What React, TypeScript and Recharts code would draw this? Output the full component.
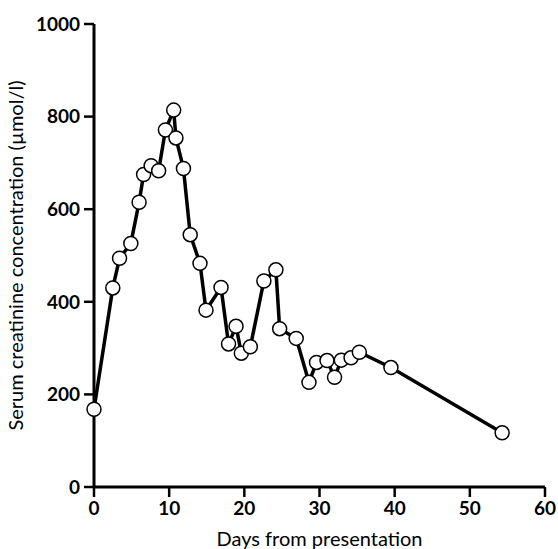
import React from 'react';
import { LineChart, Line, XAxis, YAxis } from 'recharts';

// days from presentation and serum creatinine (µmol/l)
const days = [0, 2.5, 3.4, 4.9, 6.0, 6.6, 7.6, 8.6, 9.5, 10.6, 10.9, 11.9, 12.8, 14.1, 14.9, 16.9, 17.9, 18.9, 19.6, 20.8, 22.6, 24.2, 24.7, 26.9, 28.6, 29.6, 31.0, 32.0, 32.9, 34.2, 35.3, 39.5, 54.3];
const creatinine = [168, 430, 494, 526, 615, 675, 694, 683, 771, 814, 754, 688, 545, 483, 382, 431, 309, 347, 289, 303, 445, 469, 342, 321, 226, 269, 273, 237, 274, 279, 291, 258, 117];

const xTicks = [0, 10, 20, 30, 40, 50, 60];
const yTicks = [0, 200, 400, 600, 800, 1000];

const data = days.map((d, i) => ({ day: d, value: creatinine[i] }));

const font = 'Lato, "Open Sans", sans-serif';

export default function App() {
  return (
    <div style={{ position: 'absolute', left: 0, top: 0, background: '#fff' }}>
      <LineChart width={558} height={549} data={data} margin={{ top: 24, right: 13, left: 0, bottom: 0 }}>
        <XAxis
          dataKey="day"
          type="number"
          domain={[0, 60]}
          ticks={xTicks}
          height={62}
          tickSize={10}
          axisLine={{ stroke: '#000', strokeWidth: 3 }}
          tickLine={{ stroke: '#000', strokeWidth: 2.5 }}
          tick={{ fill: '#000', fontSize: 19, fontWeight: 700, fontFamily: font, dy: 3 }}
          label={{ value: 'Days from presentation', position: 'insideBottom', offset: 3, style: { fill: '#000', fontSize: 20, fontFamily: font } }}
        />
        <YAxis
          type="number"
          domain={[0, 1000]}
          ticks={yTicks}
          width={94}
          tickSize={10}
          axisLine={{ stroke: '#000', strokeWidth: 3 }}
          tickLine={{ stroke: '#000', strokeWidth: 2.5 }}
          tick={{ fill: '#000', fontSize: 19, fontWeight: 700, fontFamily: font, dx: -2 }}
          label={{ value: 'Serum creatinine concentration (µmol/l)', angle: -90, position: 'insideLeft', offset: 16, style: { textAnchor: 'middle', fill: '#000', fontSize: 20, fontFamily: font } }}
        />
        <Line
          dataKey="value"
          stroke="#000"
          strokeWidth={3.5}
          isAnimationActive={false}
          dot={{ r: 7, fill: '#fff', stroke: '#000', strokeWidth: 1.5 }}
          activeDot={false}
        />
      </LineChart>
    </div>
  );
}
